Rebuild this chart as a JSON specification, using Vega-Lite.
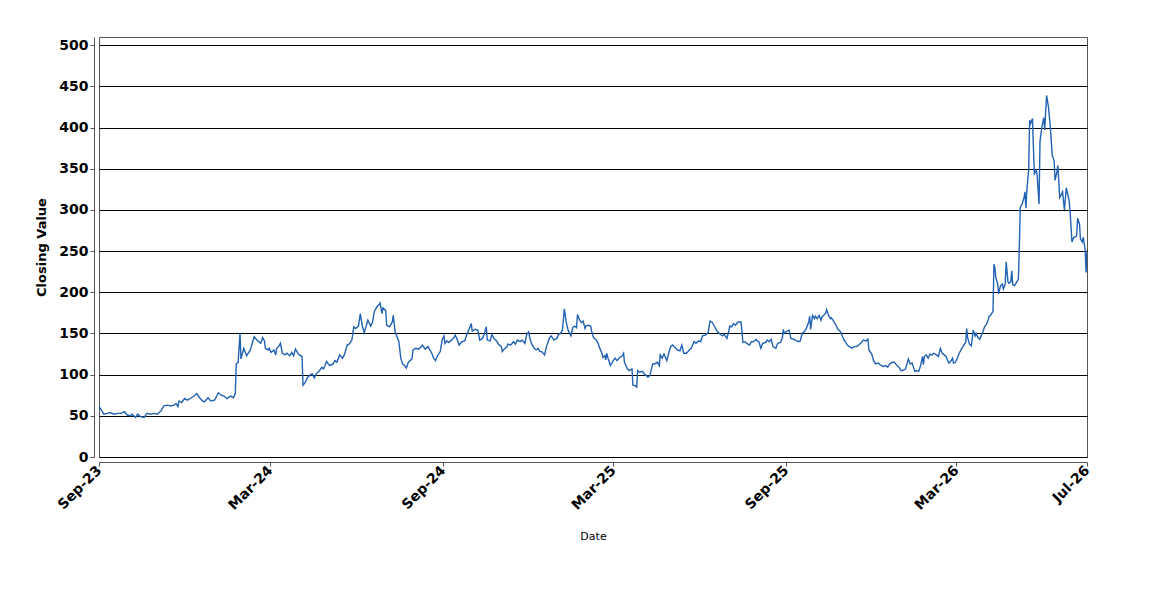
{
  "$schema": "https://vega.github.io/schema/vega-lite/v6.json",
  "width": 988,
  "height": 420,
  "autosize": {"type": "none"},
  "padding": {"left": 99, "top": 37, "right": 63, "bottom": 143},
  "background": "white",
  "config": {
    "view": {"stroke": "#555555", "strokeWidth": 1},
    "font": "DejaVu Sans"
  },
  "data": {"values": [
    {"date":"2023-09-01","close":61},{"date":"2023-09-03","close":58},{"date":"2023-09-06","close":52},{"date":"2023-09-10","close":53},{"date":"2023-09-13","close":54},{"date":"2023-09-17","close":52},{"date":"2023-09-21","close":53},{"date":"2023-09-24","close":53},{"date":"2023-09-28","close":55},{"date":"2023-10-01","close":51},{"date":"2023-10-05","close":50},{"date":"2023-10-06","close":52},{"date":"2023-10-10","close":48},{"date":"2023-10-12","close":52},{"date":"2023-10-15","close":49},{"date":"2023-10-19","close":48},{"date":"2023-10-22","close":53},{"date":"2023-10-26","close":52},{"date":"2023-10-30","close":53},{"date":"2023-11-02","close":52},{"date":"2023-11-06","close":56},{"date":"2023-11-09","close":62},{"date":"2023-11-13","close":63},{"date":"2023-11-16","close":62},{"date":"2023-11-20","close":63},{"date":"2023-11-22","close":65},{"date":"2023-11-24","close":61},{"date":"2023-11-25","close":68},{"date":"2023-11-28","close":66},{"date":"2023-12-01","close":71},{"date":"2023-12-04","close":69},{"date":"2023-12-07","close":71},{"date":"2023-12-11","close":74},{"date":"2023-12-14","close":77},{"date":"2023-12-17","close":72},{"date":"2023-12-20","close":68},{"date":"2023-12-22","close":67},{"date":"2023-12-26","close":72},{"date":"2023-12-29","close":68},{"date":"2024-01-02","close":69},{"date":"2024-01-06","close":78},{"date":"2024-01-09","close":75},{"date":"2024-01-12","close":74},{"date":"2024-01-15","close":71},{"date":"2024-01-19","close":74},{"date":"2024-01-22","close":72},{"date":"2024-01-24","close":77},{"date":"2024-01-25","close":113},{"date":"2024-01-27","close":115},{"date":"2024-01-29","close":150},{"date":"2024-01-30","close":119},{"date":"2024-02-02","close":132},{"date":"2024-02-05","close":123},{"date":"2024-02-09","close":130},{"date":"2024-02-13","close":146},{"date":"2024-02-16","close":142},{"date":"2024-02-20","close":138},{"date":"2024-02-22","close":145},{"date":"2024-02-24","close":141},{"date":"2024-02-25","close":132},{"date":"2024-02-28","close":130},{"date":"2024-02-29","close":132},{"date":"2024-03-02","close":127},{"date":"2024-03-05","close":130},{"date":"2024-03-07","close":124},{"date":"2024-03-08","close":132},{"date":"2024-03-10","close":134},{"date":"2024-03-12","close":138},{"date":"2024-03-14","close":126},{"date":"2024-03-17","close":124},{"date":"2024-03-19","close":126},{"date":"2024-03-22","close":123},{"date":"2024-03-24","close":127},{"date":"2024-03-26","close":123},{"date":"2024-03-28","close":131},{"date":"2024-03-30","close":127},{"date":"2024-04-01","close":124},{"date":"2024-04-04","close":122},{"date":"2024-04-05","close":87},{"date":"2024-04-07","close":90},{"date":"2024-04-10","close":97},{"date":"2024-04-13","close":100},{"date":"2024-04-15","close":101},{"date":"2024-04-17","close":96},{"date":"2024-04-19","close":101},{"date":"2024-04-22","close":104},{"date":"2024-04-25","close":109},{"date":"2024-04-27","close":107},{"date":"2024-04-30","close":116},{"date":"2024-05-02","close":113},{"date":"2024-05-04","close":111},{"date":"2024-05-07","close":113},{"date":"2024-05-09","close":117},{"date":"2024-05-11","close":115},{"date":"2024-05-14","close":124},{"date":"2024-05-17","close":120},{"date":"2024-05-19","close":124},{"date":"2024-05-22","close":136},{"date":"2024-05-24","close":137},{"date":"2024-05-27","close":142},{"date":"2024-05-29","close":158},{"date":"2024-05-31","close":156},{"date":"2024-06-03","close":159},{"date":"2024-06-05","close":174},{"date":"2024-06-07","close":160},{"date":"2024-06-09","close":151},{"date":"2024-06-11","close":158},{"date":"2024-06-13","close":166},{"date":"2024-06-16","close":159},{"date":"2024-06-18","close":164},{"date":"2024-06-20","close":177},{"date":"2024-06-23","close":183},{"date":"2024-06-25","close":185},{"date":"2024-06-26","close":187},{"date":"2024-06-28","close":174},{"date":"2024-06-29","close":181},{"date":"2024-07-02","close":178},{"date":"2024-07-03","close":160},{"date":"2024-07-06","close":158},{"date":"2024-07-09","close":164},{"date":"2024-07-10","close":172},{"date":"2024-07-12","close":152},{"date":"2024-07-14","close":146},{"date":"2024-07-16","close":140},{"date":"2024-07-18","close":120},{"date":"2024-07-20","close":113},{"date":"2024-07-22","close":111},{"date":"2024-07-24","close":108},{"date":"2024-07-26","close":115},{"date":"2024-07-28","close":117},{"date":"2024-07-30","close":119},{"date":"2024-07-31","close":130},{"date":"2024-08-03","close":132},{"date":"2024-08-06","close":131},{"date":"2024-08-09","close":134},{"date":"2024-08-10","close":136},{"date":"2024-08-13","close":131},{"date":"2024-08-16","close":134},{"date":"2024-08-18","close":130},{"date":"2024-08-20","close":126},{"date":"2024-08-22","close":120},{"date":"2024-08-24","close":117},{"date":"2024-08-26","close":123},{"date":"2024-08-29","close":128},{"date":"2024-08-31","close":142},{"date":"2024-09-02","close":147},{"date":"2024-09-03","close":138},{"date":"2024-09-05","close":141},{"date":"2024-09-07","close":139},{"date":"2024-09-09","close":141},{"date":"2024-09-12","close":144},{"date":"2024-09-14","close":148},{"date":"2024-09-16","close":143},{"date":"2024-09-18","close":136},{"date":"2024-09-21","close":140},{"date":"2024-09-24","close":141},{"date":"2024-09-26","close":148},{"date":"2024-09-29","close":156},{"date":"2024-10-01","close":162},{"date":"2024-10-02","close":153},{"date":"2024-10-05","close":155},{"date":"2024-10-08","close":154},{"date":"2024-10-10","close":142},{"date":"2024-10-13","close":144},{"date":"2024-10-15","close":150},{"date":"2024-10-17","close":158},{"date":"2024-10-18","close":142},{"date":"2024-10-21","close":141},{"date":"2024-10-23","close":149},{"date":"2024-10-25","close":144},{"date":"2024-10-28","close":141},{"date":"2024-10-30","close":137},{"date":"2024-11-02","close":134},{"date":"2024-11-03","close":128},{"date":"2024-11-05","close":131},{"date":"2024-11-08","close":134},{"date":"2024-11-09","close":137},{"date":"2024-11-12","close":136},{"date":"2024-11-15","close":140},{"date":"2024-11-17","close":137},{"date":"2024-11-19","close":142},{"date":"2024-11-22","close":140},{"date":"2024-11-24","close":142},{"date":"2024-11-27","close":138},{"date":"2024-11-29","close":149},{"date":"2024-12-01","close":152},{"date":"2024-12-02","close":146},{"date":"2024-12-04","close":138},{"date":"2024-12-07","close":132},{"date":"2024-12-09","close":130},{"date":"2024-12-11","close":132},{"date":"2024-12-13","close":128},{"date":"2024-12-15","close":128},{"date":"2024-12-18","close":124},{"date":"2024-12-20","close":134},{"date":"2024-12-23","close":144},{"date":"2024-12-25","close":147},{"date":"2024-12-28","close":142},{"date":"2024-12-31","close":144},{"date":"2025-01-02","close":149},{"date":"2025-01-04","close":150},{"date":"2025-01-06","close":154},{"date":"2025-01-08","close":180},{"date":"2025-01-10","close":164},{"date":"2025-01-12","close":154},{"date":"2025-01-15","close":147},{"date":"2025-01-17","close":157},{"date":"2025-01-19","close":159},{"date":"2025-01-21","close":157},{"date":"2025-01-22","close":173},{"date":"2025-01-24","close":167},{"date":"2025-01-26","close":163},{"date":"2025-01-28","close":165},{"date":"2025-01-30","close":156},{"date":"2025-01-31","close":159},{"date":"2025-02-02","close":160},{"date":"2025-02-05","close":159},{"date":"2025-02-06","close":153},{"date":"2025-02-08","close":145},{"date":"2025-02-11","close":142},{"date":"2025-02-13","close":138},{"date":"2025-02-14","close":134},{"date":"2025-02-17","close":126},{"date":"2025-02-18","close":121},{"date":"2025-02-20","close":123},{"date":"2025-02-21","close":118},{"date":"2025-02-22","close":126},{"date":"2025-02-24","close":118},{"date":"2025-02-26","close":111},{"date":"2025-03-01","close":117},{"date":"2025-03-03","close":120},{"date":"2025-03-05","close":117},{"date":"2025-03-08","close":121},{"date":"2025-03-10","close":122},{"date":"2025-03-12","close":126},{"date":"2025-03-13","close":115},{"date":"2025-03-16","close":107},{"date":"2025-03-18","close":105},{"date":"2025-03-21","close":107},{"date":"2025-03-22","close":87},{"date":"2025-03-24","close":87},{"date":"2025-03-26","close":85},{"date":"2025-03-27","close":105},{"date":"2025-03-29","close":103},{"date":"2025-04-01","close":104},{"date":"2025-04-04","close":100},{"date":"2025-04-07","close":97},{"date":"2025-04-09","close":99},{"date":"2025-04-12","close":113},{"date":"2025-04-14","close":113},{"date":"2025-04-17","close":115},{"date":"2025-04-19","close":111},{"date":"2025-04-20","close":124},{"date":"2025-04-22","close":120},{"date":"2025-04-24","close":125},{"date":"2025-04-27","close":117},{"date":"2025-04-29","close":126},{"date":"2025-05-01","close":134},{"date":"2025-05-03","close":136},{"date":"2025-05-06","close":133},{"date":"2025-05-08","close":130},{"date":"2025-05-11","close":129},{"date":"2025-05-13","close":136},{"date":"2025-05-15","close":126},{"date":"2025-05-18","close":126},{"date":"2025-05-21","close":130},{"date":"2025-05-23","close":132},{"date":"2025-05-26","close":140},{"date":"2025-05-28","close":138},{"date":"2025-05-31","close":141},{"date":"2025-06-02","close":140},{"date":"2025-06-04","close":147},{"date":"2025-06-07","close":148},{"date":"2025-06-10","close":151},{"date":"2025-06-12","close":165},{"date":"2025-06-14","close":164},{"date":"2025-06-16","close":160},{"date":"2025-06-18","close":156},{"date":"2025-06-20","close":152},{"date":"2025-06-23","close":149},{"date":"2025-06-25","close":147},{"date":"2025-06-27","close":149},{"date":"2025-06-30","close":144},{"date":"2025-07-02","close":153},{"date":"2025-07-03","close":159},{"date":"2025-07-05","close":158},{"date":"2025-07-07","close":162},{"date":"2025-07-09","close":160},{"date":"2025-07-11","close":163},{"date":"2025-07-12","close":164},{"date":"2025-07-15","close":164},{"date":"2025-07-17","close":139},{"date":"2025-07-19","close":140},{"date":"2025-07-21","close":138},{"date":"2025-07-24","close":136},{"date":"2025-07-26","close":140},{"date":"2025-07-28","close":140},{"date":"2025-07-31","close":143},{"date":"2025-08-01","close":141},{"date":"2025-08-03","close":140},{"date":"2025-08-05","close":132},{"date":"2025-08-07","close":138},{"date":"2025-08-10","close":139},{"date":"2025-08-12","close":142},{"date":"2025-08-14","close":140},{"date":"2025-08-16","close":143},{"date":"2025-08-18","close":134},{"date":"2025-08-21","close":132},{"date":"2025-08-23","close":138},{"date":"2025-08-26","close":139},{"date":"2025-08-28","close":145},{"date":"2025-08-29","close":155},{"date":"2025-08-30","close":150},{"date":"2025-09-02","close":153},{"date":"2025-09-04","close":154},{"date":"2025-09-06","close":144},{"date":"2025-09-09","close":143},{"date":"2025-09-11","close":142},{"date":"2025-09-14","close":140},{"date":"2025-09-16","close":141},{"date":"2025-09-18","close":150},{"date":"2025-09-20","close":152},{"date":"2025-09-22","close":155},{"date":"2025-09-23","close":158},{"date":"2025-09-25","close":164},{"date":"2025-09-26","close":171},{"date":"2025-09-27","close":155},{"date":"2025-09-29","close":172},{"date":"2025-10-01","close":168},{"date":"2025-10-02","close":171},{"date":"2025-10-04","close":168},{"date":"2025-10-06","close":172},{"date":"2025-10-08","close":166},{"date":"2025-10-09","close":170},{"date":"2025-10-11","close":172},{"date":"2025-10-13","close":175},{"date":"2025-10-14","close":179},{"date":"2025-10-16","close":172},{"date":"2025-10-18","close":168},{"date":"2025-10-19","close":169},{"date":"2025-10-21","close":166},{"date":"2025-10-24","close":160},{"date":"2025-10-26","close":155},{"date":"2025-10-28","close":153},{"date":"2025-10-29","close":152},{"date":"2025-10-31","close":146},{"date":"2025-11-02","close":141},{"date":"2025-11-03","close":140},{"date":"2025-11-05","close":136},{"date":"2025-11-07","close":134},{"date":"2025-11-09","close":133},{"date":"2025-11-10","close":132},{"date":"2025-11-12","close":134},{"date":"2025-11-15","close":134},{"date":"2025-11-18","close":137},{"date":"2025-11-20","close":139},{"date":"2025-11-22","close":142},{"date":"2025-11-25","close":141},{"date":"2025-11-27","close":143},{"date":"2025-11-28","close":130},{"date":"2025-12-01","close":125},{"date":"2025-12-03","close":117},{"date":"2025-12-05","close":113},{"date":"2025-12-08","close":114},{"date":"2025-12-10","close":112},{"date":"2025-12-13","close":110},{"date":"2025-12-16","close":111},{"date":"2025-12-18","close":109},{"date":"2025-12-20","close":113},{"date":"2025-12-23","close":115},{"date":"2025-12-25","close":115},{"date":"2025-12-28","close":111},{"date":"2025-12-30","close":109},{"date":"2026-01-01","close":105},{"date":"2026-01-03","close":105},{"date":"2026-01-06","close":107},{"date":"2026-01-08","close":115},{"date":"2026-01-09","close":119},{"date":"2026-01-11","close":113},{"date":"2026-01-13","close":114},{"date":"2026-01-15","close":107},{"date":"2026-01-16","close":104},{"date":"2026-01-18","close":105},{"date":"2026-01-20","close":104},{"date":"2026-01-22","close":111},{"date":"2026-01-24","close":122},{"date":"2026-01-25","close":112},{"date":"2026-01-26","close":122},{"date":"2026-01-28","close":124},{"date":"2026-01-30","close":120},{"date":"2026-02-01","close":125},{"date":"2026-02-03","close":124},{"date":"2026-02-05","close":126},{"date":"2026-02-08","close":124},{"date":"2026-02-10","close":122},{"date":"2026-02-12","close":132},{"date":"2026-02-14","close":126},{"date":"2026-02-16","close":124},{"date":"2026-02-18","close":122},{"date":"2026-02-21","close":114},{"date":"2026-02-23","close":116},{"date":"2026-02-25","close":120},{"date":"2026-02-26","close":114},{"date":"2026-02-28","close":115},{"date":"2026-03-02","close":120},{"date":"2026-03-04","close":126},{"date":"2026-03-06","close":130},{"date":"2026-03-09","close":136},{"date":"2026-03-11","close":139},{"date":"2026-03-12","close":156},{"date":"2026-03-13","close":145},{"date":"2026-03-15","close":137},{"date":"2026-03-17","close":135},{"date":"2026-03-19","close":154},{"date":"2026-03-21","close":147},{"date":"2026-03-22","close":150},{"date":"2026-03-24","close":145},{"date":"2026-03-26","close":143},{"date":"2026-03-28","close":149},{"date":"2026-03-29","close":151},{"date":"2026-03-31","close":158},{"date":"2026-04-02","close":161},{"date":"2026-04-04","close":167},{"date":"2026-04-05","close":171},{"date":"2026-04-07","close":173},{"date":"2026-04-09","close":177},{"date":"2026-04-10","close":234},{"date":"2026-04-11","close":230},{"date":"2026-04-12","close":218},{"date":"2026-04-14","close":210},{"date":"2026-04-15","close":198},{"date":"2026-04-17","close":208},{"date":"2026-04-19","close":210},{"date":"2026-04-20","close":204},{"date":"2026-04-22","close":210},{"date":"2026-04-23","close":237},{"date":"2026-04-25","close":212},{"date":"2026-04-26","close":211},{"date":"2026-04-28","close":213},{"date":"2026-04-29","close":226},{"date":"2026-04-30","close":209},{"date":"2026-05-02","close":208},{"date":"2026-05-04","close":212},{"date":"2026-05-06","close":216},{"date":"2026-05-07","close":254},{"date":"2026-05-08","close":303},{"date":"2026-05-10","close":307},{"date":"2026-05-12","close":315},{"date":"2026-05-13","close":322},{"date":"2026-05-14","close":302},{"date":"2026-05-15","close":324},{"date":"2026-05-17","close":350},{"date":"2026-05-18","close":409},{"date":"2026-05-19","close":405},{"date":"2026-05-21","close":411},{"date":"2026-05-22","close":376},{"date":"2026-05-23","close":344},{"date":"2026-05-25","close":348},{"date":"2026-05-26","close":342},{"date":"2026-05-28","close":307},{"date":"2026-05-29","close":383},{"date":"2026-05-31","close":401},{"date":"2026-06-02","close":412},{"date":"2026-06-03","close":397},{"date":"2026-06-05","close":439},{"date":"2026-06-07","close":425},{"date":"2026-06-08","close":413},{"date":"2026-06-09","close":401},{"date":"2026-06-11","close":366},{"date":"2026-06-13","close":360},{"date":"2026-06-14","close":336},{"date":"2026-06-16","close":346},{"date":"2026-06-17","close":354},{"date":"2026-06-19","close":315},{"date":"2026-06-20","close":317},{"date":"2026-06-22","close":322},{"date":"2026-06-24","close":300},{"date":"2026-06-26","close":327},{"date":"2026-06-27","close":322},{"date":"2026-06-29","close":311},{"date":"2026-06-30","close":299},{"date":"2026-07-02","close":261},{"date":"2026-07-04","close":267},{"date":"2026-07-06","close":267},{"date":"2026-07-07","close":269},{"date":"2026-07-08","close":290},{"date":"2026-07-10","close":283},{"date":"2026-07-11","close":265},{"date":"2026-07-13","close":261},{"date":"2026-07-14","close":267},{"date":"2026-07-16","close":252},{"date":"2026-07-17","close":224},{"date":"2026-07-18","close":251}
  ]},
  "mark": {"type": "line", "color": "#2162b3", "strokeWidth": 1.4, "clip": true},
  "encoding": {
    "x": {
      "field": "date",
      "type": "temporal",
      "title": "Date",
      "scale": {"type": "utc", "domain": [{"year": 2023, "month": 9, "date": 1, "utc": true}, {"year": 2026, "month": 7, "date": 18, "utc": true}]},
      "axis": {
        "values": [
          {"year": 2023, "month": 9, "date": 1, "utc": true},
          {"year": 2024, "month": 3, "date": 1, "utc": true},
          {"year": 2024, "month": 9, "date": 1, "utc": true},
          {"year": 2025, "month": 3, "date": 1, "utc": true},
          {"year": 2025, "month": 9, "date": 1, "utc": true},
          {"year": 2026, "month": 3, "date": 1, "utc": true},
          {"year": 2026, "month": 7, "date": 18, "utc": true}
        ],
        "labelExpr": "utcFormat(datum.value, '%b-%y')",
        "labelAngle": -45,
        "labelAlign": "right",
        "labelBaseline": "middle",
        "labelFontSize": 14,
        "labelFontWeight": "bold",
        "labelColor": "#000000",
        "labelPadding": 2,
        "labelOverlap": false,
        "labelFlush": false,
        "grid": false,
        "offset": 5,
        "domainColor": "#555555",
        "tickColor": "#555555",
        "tickSize": 4,
        "titleFontSize": 11,
        "titleFontWeight": "normal",
        "titleColor": "#000000",
        "titlePadding": 18
      }
    },
    "y": {
      "field": "close",
      "type": "quantitative",
      "title": "Closing Value",
      "scale": {"domain": [0, 510], "nice": false, "zero": true},
      "axis": {
        "values": [0, 50, 100, 150, 200, 250, 300, 350, 400, 450, 500],
        "labelFontSize": 14,
        "labelFontWeight": "bold",
        "labelColor": "#000000",
        "labelPadding": 2,
        "grid": true,
        "gridColor": "#000000",
        "gridWidth": 1,
        "gridOpacity": 1,
        "offset": 5,
        "domainColor": "#555555",
        "tickColor": "#555555",
        "tickSize": 4,
        "titleFontSize": 13,
        "titleFontWeight": "bold",
        "titleColor": "#000000",
        "titlePadding": 10
      }
    }
  }
}
